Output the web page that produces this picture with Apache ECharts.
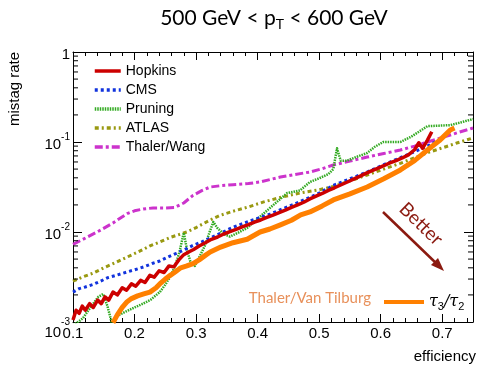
<!DOCTYPE html>
<html>
<head>
<meta charset="utf-8">
<script src="https://cdn.jsdelivr.net/npm/echarts@6/dist/echarts.min.js"></script>
<style>
  html, body { margin: 0; padding: 0; background: #fff; }
  #chart { width: 478px; height: 366px; }
</style>
</head>
<body>
<div id="chart"></div>
<script>
// efficiency vs mistag rate
const hopkins = [
  [0.100, 0.00105], [0.105, 0.00135], [0.110, 0.00125], [0.115, 0.00150], [0.120, 0.00135],
  [0.127, 0.00160], [0.133, 0.00145], [0.140, 0.00175], [0.146, 0.00160], [0.152, 0.00190],
  [0.158, 0.00175], [0.165, 0.00215], [0.172, 0.00200], [0.180, 0.00240], [0.187, 0.00225],
  [0.195, 0.00265], [0.202, 0.00250], [0.210, 0.00290], [0.217, 0.00275], [0.225, 0.00330],
  [0.232, 0.00315], [0.240, 0.00370], [0.248, 0.00355], [0.256, 0.00420], [0.264, 0.00410],
  [0.272, 0.00490], [0.280, 0.00560], [0.288, 0.00600], [0.296, 0.00640], [0.305, 0.00700],
  [0.315, 0.00760], [0.325, 0.00830], [0.335, 0.00880], [0.345, 0.00950], [0.355, 0.0101],
  [0.365, 0.0107], [0.375, 0.0114], [0.385, 0.0121], [0.395, 0.0129], [0.405, 0.0136],
  [0.415, 0.0145], [0.425, 0.0154], [0.435, 0.0164], [0.445, 0.0175], [0.455, 0.0188],
  [0.465, 0.0200], [0.475, 0.0214], [0.485, 0.0233], [0.495, 0.0250], [0.505, 0.0268],
  [0.515, 0.0290], [0.525, 0.0310], [0.535, 0.0333], [0.545, 0.0357], [0.555, 0.0384],
  [0.565, 0.0413], [0.575, 0.0445], [0.585, 0.0478], [0.595, 0.0510], [0.605, 0.0545],
  [0.615, 0.0585], [0.625, 0.0620], [0.635, 0.0665], [0.645, 0.0720], [0.655, 0.0820],
  [0.662, 0.0980], [0.668, 0.0850], [0.676, 0.1050], [0.683, 0.1300]
];
const cms = [
  [0.100, 0.00215], [0.110, 0.00235], [0.120, 0.00245], [0.133, 0.00262], [0.145, 0.00285],
  [0.156, 0.00310], [0.170, 0.00330], [0.188, 0.00360], [0.200, 0.00380], [0.215, 0.00410],
  [0.230, 0.00450], [0.241, 0.00476], [0.255, 0.00530], [0.268, 0.00580], [0.280, 0.00630],
  [0.295, 0.00710], [0.310, 0.00780], [0.323, 0.00860], [0.340, 0.00970], [0.360, 0.0113],
  [0.380, 0.0127], [0.400, 0.0142], [0.420, 0.0158], [0.440, 0.0180], [0.460, 0.0205],
  [0.480, 0.0235], [0.500, 0.0270], [0.523, 0.0330], [0.550, 0.0390], [0.578, 0.0464],
  [0.605, 0.0560], [0.632, 0.0670], [0.655, 0.0780], [0.680, 0.0930], [0.700, 0.1100]
];
const pruning = [
  [0.100, 0.00092], [0.108, 0.00100], [0.116, 0.00110], [0.125, 0.00135], [0.133, 0.00160],
  [0.141, 0.00190], [0.149, 0.00205], [0.156, 0.00150], [0.163, 0.00098], [0.170, 0.00115],
  [0.180, 0.00125], [0.190, 0.00135], [0.200, 0.00145], [0.212, 0.00158], [0.226, 0.00176],
  [0.241, 0.00215], [0.250, 0.00260], [0.258, 0.00320], [0.266, 0.00420], [0.273, 0.00600],
  [0.280, 0.00980], [0.286, 0.00600], [0.292, 0.00440], [0.298, 0.00420], [0.305, 0.00520],
  [0.315, 0.00720], [0.322, 0.0100], [0.328, 0.0129], [0.335, 0.0110], [0.345, 0.0095],
  [0.355, 0.0089], [0.368, 0.0098], [0.383, 0.0111], [0.400, 0.0140], [0.420, 0.0185],
  [0.448, 0.0271], [0.469, 0.0290], [0.485, 0.0360], [0.500, 0.0395], [0.515, 0.0440],
  [0.523, 0.0500], [0.529, 0.0850], [0.535, 0.0620], [0.545, 0.0620], [0.560, 0.0680],
  [0.578, 0.0755], [0.590, 0.0880], [0.604, 0.1000], [0.620, 0.1000], [0.632, 0.1000],
  [0.650, 0.1150], [0.676, 0.1500], [0.695, 0.1520], [0.713, 0.1540], [0.730, 0.1650],
  [0.750, 0.1800]
];
const atlas = [
  [0.100, 0.00285], [0.115, 0.00315], [0.133, 0.00350], [0.150, 0.00400], [0.170, 0.00460],
  [0.188, 0.00527], [0.210, 0.00620], [0.225, 0.00700], [0.241, 0.00774], [0.260, 0.00880],
  [0.285, 0.0100], [0.300, 0.0112], [0.323, 0.0136], [0.340, 0.0154], [0.360, 0.0170],
  [0.385, 0.0190], [0.410, 0.0216], [0.440, 0.0245], [0.470, 0.0272], [0.500, 0.0295],
  [0.523, 0.0320], [0.550, 0.0370], [0.578, 0.0430], [0.605, 0.0500], [0.632, 0.0580],
  [0.655, 0.0670], [0.676, 0.0760], [0.700, 0.0860], [0.725, 0.0980], [0.750, 0.1110]
];
const thalerWang = [
  [0.100, 0.0073], [0.115, 0.0082], [0.130, 0.0093], [0.145, 0.0105], [0.165, 0.0126],
  [0.188, 0.0160], [0.200, 0.0172], [0.214, 0.0180], [0.230, 0.0185], [0.250, 0.0185],
  [0.265, 0.0187], [0.280, 0.0210], [0.295, 0.0255], [0.310, 0.0290], [0.323, 0.0316],
  [0.340, 0.0327], [0.360, 0.0335], [0.385, 0.0345], [0.404, 0.0360], [0.437, 0.0408],
  [0.460, 0.0435], [0.485, 0.0464], [0.505, 0.0505], [0.523, 0.0555], [0.550, 0.0615],
  [0.578, 0.0680], [0.605, 0.0745], [0.632, 0.0815], [0.655, 0.0900], [0.676, 0.1000],
  [0.700, 0.1120], [0.725, 0.1270], [0.750, 0.1430]
];
const thalerVanTilburg = [
  [0.165, 0.00098], [0.172, 0.00120], [0.180, 0.00145], [0.188, 0.00168], [0.195, 0.00182],
  [0.205, 0.00195], [0.215, 0.00205], [0.225, 0.00215], [0.235, 0.00240], [0.241, 0.00265],
  [0.250, 0.00300], [0.258, 0.00330], [0.266, 0.00360], [0.275, 0.00400], [0.285, 0.00420],
  [0.295, 0.00445], [0.305, 0.00490], [0.315, 0.00550], [0.323, 0.00600], [0.340, 0.00680],
  [0.360, 0.00760], [0.383, 0.00830], [0.404, 0.01000], [0.420, 0.01080], [0.437, 0.01200],
  [0.455, 0.01350], [0.470, 0.01550], [0.485, 0.01670], [0.505, 0.01950], [0.523, 0.02270],
  [0.550, 0.02650], [0.578, 0.03160], [0.605, 0.03900], [0.632, 0.04890], [0.655, 0.06200],
  [0.680, 0.08570], [0.695, 0.10300], [0.705, 0.12000], [0.713, 0.13600], [0.720, 0.14300]
];

const legendNames = ['Hopkins', 'CMS', 'Pruning', 'ATLAS', 'Thaler/Wang'];
const xMin = 0.1, xMax = 0.75;
const yMin = 0.001, yMax = 1;

const SANS = 'Liberation Sans';
const GILL = 'Lato';

// minor ticks of the log axis (2..9 x each decade)
const minorTicks = [];
for (let d = -3; d < 0; d++) {
  for (let m = 2; m <= 9; m++) minorTicks.push([xMin, m * Math.pow(10, d)]);
}

function lineSeries(name, data, color, width, type) {
  return {
    name, type: 'line', data,
    symbol: 'none', smooth: false, clip: true,
    lineStyle: { color, width, type, cap: 'butt', join: 'round' },
    itemStyle: { color },
    emphasis: { disabled: true },
    animation: false
  };
}

const chart = echarts.init(document.getElementById('chart'));

chart.setOption({
  animation: false,
  grid: { left: 73, right: 5, top: 52, bottom: 44 },
  xAxis: [{
    type: 'value', min: xMin, max: xMax, interval: 0.1,
    axisLine: { lineStyle: { color: '#000', width: 1 } },
    axisTick: { inside: true, length: 8, lineStyle: { color: '#000' } },
    minorTick: { show: true, splitNumber: 5, length: 4, lineStyle: { color: '#000' } },
    splitLine: { show: false },
    axisLabel: { color: '#000', fontFamily: SANS, fontSize: 15, margin: 4, showMaxLabel: false }
  }, {
    type: 'value', min: xMin, max: xMax, interval: 0.1, position: 'top',
    axisLine: { lineStyle: { color: '#000', width: 1 } },
    axisTick: { inside: true, length: 8, lineStyle: { color: '#000' } },
    minorTick: { show: true, splitNumber: 5, length: 4, lineStyle: { color: '#000' } },
    splitLine: { show: false },
    axisLabel: { show: false }
  }],
  yAxis: [{
    type: 'log', logBase: 10, min: yMin, max: yMax,
    axisLine: { lineStyle: { color: '#000', width: 1 } },
    axisTick: { inside: true, length: 9, lineStyle: { color: '#000' } },
    splitLine: { show: false },
    axisLabel: {
      margin: 3,
      formatter: v => {
        const e = Math.round(Math.log10(v));
        if (e === 0) return '{b|1}';
        if (e === -3) return '{b3|10}{s3|' + e + '}';
        return '{b|10}{s|' + e + '}';
      },
      rich: {
        b: { fontFamily: SANS, fontSize: 15, color: '#000', lineHeight: 20, verticalAlign: 'bottom' },
        s: { fontFamily: SANS, fontSize: 10, color: '#000', lineHeight: 20, verticalAlign: 'top' },
        b3: { fontFamily: SANS, fontSize: 15, color: '#000', lineHeight: 37, verticalAlign: 'bottom' },
        s3: { fontFamily: SANS, fontSize: 10, color: '#000', verticalAlign: 'middle' }
      }
    }
  }, {
    type: 'log', logBase: 10, min: yMin, max: yMax, position: 'right',
    axisLine: { lineStyle: { color: '#000', width: 1 } },
    axisTick: { inside: true, length: 9, lineStyle: { color: '#000' } },
    splitLine: { show: false },
    axisLabel: { show: false }
  }],
  legend: [{
    data: legendNames,
    orient: 'vertical', left: 88, top: 59,
    itemWidth: 26, itemHeight: 14, itemGap: 5,
    selectedMode: false,
    itemStyle: { opacity: 0 },
    lineStyle: { width: 3.5 },
    textStyle: { fontFamily: SANS, fontSize: 14, color: '#000', lineHeight: 14 }
  }, {
    data: ['Thaler/Van Tilburg'],
    orient: 'vertical', left: 377, top: 289,
    itemWidth: 40, itemHeight: 14,
    selectedMode: false,
    itemStyle: { opacity: 0 },
    lineStyle: { width: 4 },
    formatter: () => '{t|τ}{s|3}{t|/τ}{s|2}',
    textStyle: {
      color: '#000',
      rich: {
        t: { fontFamily: 'DejaVu Serif', fontStyle: 'italic', fontSize: 16, color: '#000', lineHeight: 20, verticalAlign: 'middle' },
        s: { fontFamily: SANS, fontSize: 11, color: '#000', lineHeight: 20, verticalAlign: 'bottom' }
      }
    }
  }],
  series: [
    {
      type: 'custom', name: 'minor', silent: true, clip: false, z: 5,
      xAxisIndex: 0, yAxisIndex: 0,
      data: minorTicks,
      renderItem: (params, api) => {
        const y = api.value(1);
        const pl = api.coord([xMin, y]);
        const pr = api.coord([xMax, y]);
        const st = { stroke: '#000', lineWidth: 1 };
        return {
          type: 'group', children: [
            { type: 'line', shape: { x1: pl[0], y1: pl[1], x2: pl[0] + 5, y2: pl[1] }, style: st },
            { type: 'line', shape: { x1: pr[0], y1: pr[1], x2: pr[0] - 5, y2: pr[1] }, style: st }
          ]
        };
      }
    },
    lineSeries('Thaler/Wang', thalerWang, '#cc33cc', 3, [8, 3, 3, 3]),
    lineSeries('ATLAS', atlas, '#999911', 3, [4, 3, 2, 3]),
    lineSeries('Pruning', pruning, '#33aa22', 2.5, [1.5, 1]),
    lineSeries('CMS', cms, '#1133dd', 3, [3, 3]),
    lineSeries('Hopkins', hopkins, '#cc0000', 3.5, 'solid'),
    lineSeries('Thaler/Van Tilburg', thalerVanTilburg, '#ff8000', 5, 'solid')
  ],
  graphic: [
    {
      type: 'text', x: 274, y: 18,
      style: {
        text: '{a|500 GeV < p}{t|T}{a| < 600 GeV}',
        align: 'center', verticalAlign: 'middle',
        rich: {
          a: { fontFamily: GILL, fontSize: 21, fill: '#000', lineHeight: 26, verticalAlign: 'middle' },
          t: { fontFamily: GILL, fontSize: 14, fill: '#000', lineHeight: 26, verticalAlign: 'bottom' }
        }
      }
    },
    {
      type: 'text', x: 15, y: 89, rotation: Math.PI / 2,
      style: { text: 'mistag rate', fontFamily: SANS, fontSize: 15, fill: '#000', align: 'center', verticalAlign: 'middle' }
    },
    {
      type: 'text', x: 476, y: 357,
      style: { text: 'efficiency', fontFamily: SANS, fontSize: 15, fill: '#000', align: 'right', verticalAlign: 'middle' }
    },
    {
      type: 'text', x: 371, y: 298,
      style: { text: 'Thaler/Van Tilburg', fontFamily: GILL, fontSize: 15, fill: '#e8905a', align: 'right', verticalAlign: 'middle' }
    },
    {
      type: 'text', x: 421, y: 224, rotation: -0.77,
      style: { text: 'Better', fontFamily: GILL, fontSize: 19, fill: '#8b1a10', align: 'center', verticalAlign: 'middle' }
    },
    {
      type: 'line', shape: { x1: 383, y1: 212, x2: 438, y2: 265 },
      style: { stroke: '#8b1a10', lineWidth: 2.5 }
    },
    {
      type: 'polygon', shape: { points: [[444, 271], [431, 265], [438, 258]] },
      style: { fill: '#8b1a10' }
    }
  ]
});
</script>
</body>
</html>
